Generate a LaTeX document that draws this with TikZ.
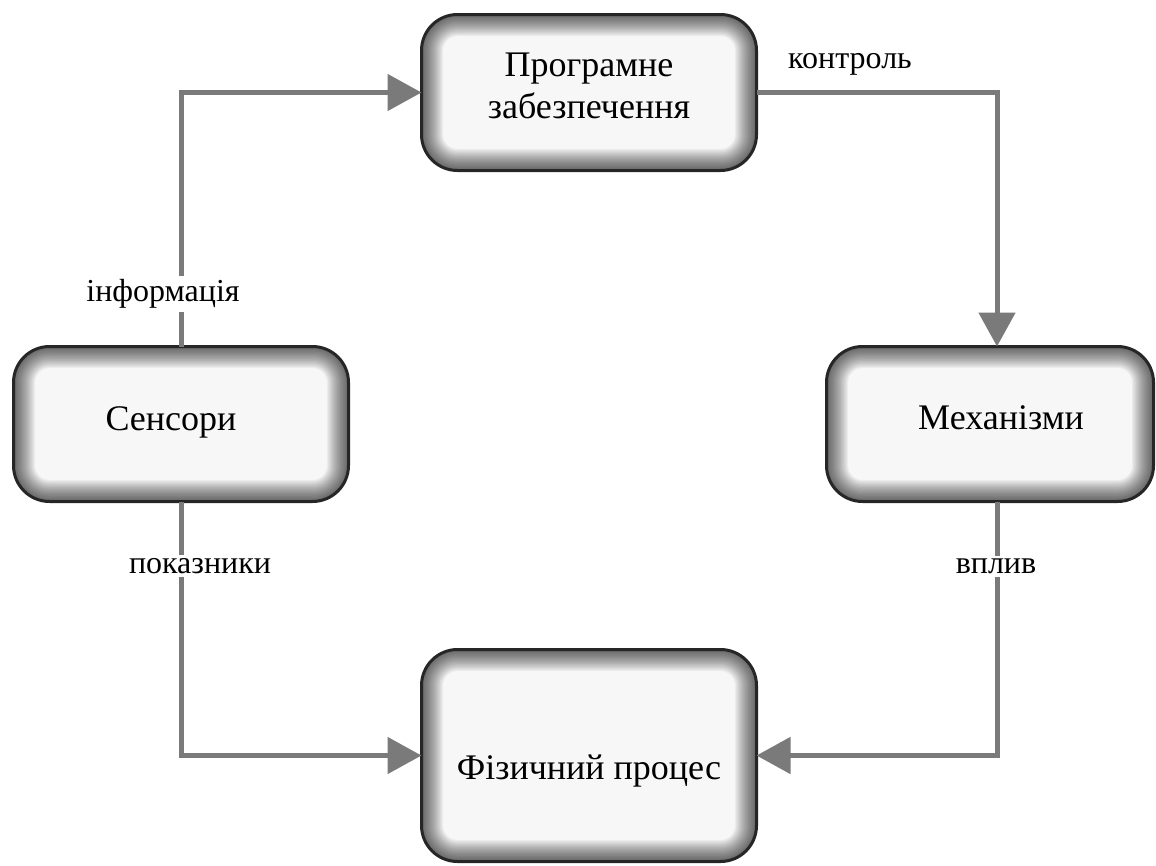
\documentclass[tikz,border=0pt]{standalone}
\usepackage{fontspec}
\setmainfont{Liberation Serif}
\usetikzlibrary{arrows.meta}
\definecolor{wire}{HTML}{7A7A7A}
\definecolor{rim}{HTML}{262626}
\tikzset{
  glowbox/.style={
    draw=rim, line width=3pt, fill=white!97!black, rounded corners=36pt,
    inner sep=0pt, outer sep=0pt, align=center,
    font=\fontsize{36}{42}\selectfont,
    path picture={
      \foreach \i in {1,...,18}
        \draw[line width=2.4*\i pt, black, opacity=0.042, rounded corners=36pt]
          (path picture bounding box.south west) rectangle
          (path picture bounding box.north east);
    }
  },
  wireline/.style={draw=wire, line width=5pt,
    -{Triangle[length=34pt,width=36pt]}},
  tag/.style={fill=white, inner sep=3pt, font=\fontsize{32}{38}\selectfont}
}
\newcommand{\boxtext}[2]{\raisebox{#1}[0pt][0pt]{#2}}
\begin{document}
\begin{tikzpicture}[x=1pt,y=-1pt]
  \useasboundingbox (0,0) rectangle (1156,865);

  % blocks
  \node[glowbox, minimum width=335pt, minimum height=156pt] (prog) at (589,92.5)
    {\boxtext{-2.5pt}{\begin{tabular}{@{}c@{}}Програмне\\забезпечення\end{tabular}}};
  \node[glowbox, minimum width=335pt, minimum height=155pt] (sens) at (181,424)
    {\hspace*{-20pt}\boxtext{-6pt}{Сенсори}};
  \node[glowbox, minimum width=327pt, minimum height=155pt] (mech) at (990,424)
    {\hspace*{22pt}\boxtext{-5pt}{Механізми}};
  \node[glowbox, minimum width=335pt, minimum height=212pt] (phys) at (589,755.5)
    {\boxtext{-24pt}{Фізичний процес}};

  % connectors
  \draw[wireline] (sens.north) |- (prog.west);
  \draw[wireline] (prog.east) -| ([xshift=7pt]mech.north);
  \draw[wireline] ([xshift=7pt]mech.south) |- (phys.east);
  \draw[wireline] (sens.south) |- (phys.west);

  % connector labels
  \node[tag] (info) at (163,294) {інформація};
  \node[tag] (ind) at (200,566) {показники};
  \node[tag] (infl) at (996,566) {вплив};
  \node[tag, fill=none] (ctrl) at (850,64) {контроль};
\end{tikzpicture}
\end{document}
